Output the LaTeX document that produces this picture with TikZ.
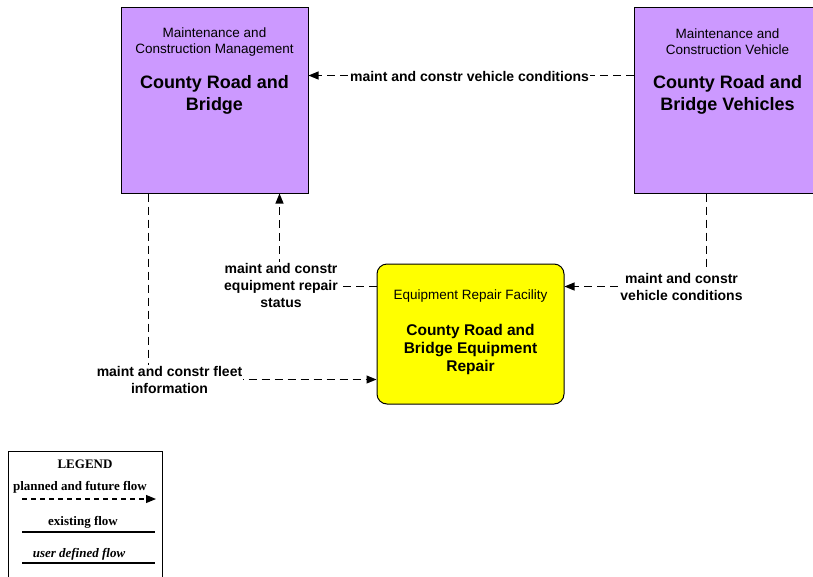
\documentclass[tikz,border=0pt]{standalone}
\usepackage{fontspec}
\setmainfont{Liberation Sans}
\newfontfamily\legendfont{Liberation Serif}
\usetikzlibrary{arrows.meta,calc}
\definecolor{boxpurple}{RGB}{204,153,255}
\definecolor{boxyellow}{RGB}{255,255,0}
\tikzset{
  x=1pt,y=-1pt,
  purplebox/.style={draw=black,line width=1pt,fill=boxpurple,rectangle,inner sep=0pt},
  yellowbox/.style={draw=black,line width=1pt,fill=boxyellow,rectangle,rounded corners=10pt,inner sep=0pt},
  subtxt/.style={align=center,inner sep=0pt,font=\fontsize{13.5}{16}\selectfont},
  titletxt/.style={align=center,inner sep=0pt,font=\bfseries\fontsize{18}{22}\selectfont},
  ytitletxt/.style={align=center,inner sep=0pt,font=\bfseries\fontsize{15.5}{18}\selectfont},
  flow/.style={draw=black,line width=1.1pt,dash pattern=on 8pt off 5pt,-{Triangle[length=10pt,width=8pt]}},
  flowlbl/.style={align=center,fill=white,inner sep=1pt,font=\bfseries\fontsize{14}{17}\selectfont},
  legtxt/.style={inner sep=0pt,font=\legendfont\bfseries\fontsize{13}{14}\selectfont},
  legline/.style={draw=black,line width=1.1pt}
}
\begin{document}
\begin{tikzpicture}
\useasboundingbox (0,0) rectangle (813,576);
% boxes
\node[purplebox,minimum width=187pt,minimum height=186pt] (crb) at (214.5,100) {};
\node[purplebox,minimum width=187pt,minimum height=186pt] (crbv) at (727.5,100) {};
\node[yellowbox,minimum width=187pt,minimum height=140pt] (yr) at (470.5,334) {};
% box texts
\node[subtxt] (crbsub) at (214.5,42) {Maintenance and\\Construction Management};
\node[titletxt] (crbtitle) at (214.5,95) {County Road and\\Bridge};
\node[subtxt] (crbvsub) at (727.5,42) {Maintenance and\\Construction Vehicle};
\node[titletxt] (crbvtitle) at (727.5,95) {County Road and\\Bridge Vehicles};
\node[subtxt] (yrsub) at (470.5,296) {Equipment Repair Facility};
\node[ytitletxt] (yrtitle) at (470.5,349) {County Road and\\Bridge Equipment\\Repair};
% connectors
\draw[flow] ($(crbv.north west)+(0,69)$) -- ($(crb.north east)+(0,69)$);
\node[flowlbl] (l1) at (469.5,76) {maint and constr vehicle conditions};
\draw[flow] ($(yr.north west)+(0,23)$) -| ($(crb.south west)+(159,0)$);
\node[flowlbl] (l2) at (281,285) {maint and constr\\equipment repair\\status};
\draw[flow] ($(crb.south west)+(28,0)$) |- ($(yr.north west)+(0,116)$);
\node[flowlbl] (l3) at (169.5,379.5) {maint and constr fleet\\information};
\draw[flow] ($(crbv.south west)+(73,0)$) |- ($(yr.north east)+(0,23)$);
\node[flowlbl] (l4) at (681.5,286.5) {maint and constr\\vehicle conditions};
% legend
\node[draw=black,line width=1pt,rectangle,minimum width=154pt,minimum height=130pt,inner sep=0pt] (leg) at (85,516) {};
\node[legtxt] (legt) at (85,464) {LEGEND};
\node[legtxt] (leg1) at (80,487) {planned and future flow};
\coordinate (a1) at (22,499);
\coordinate (a2) at (156,499);
\draw[line width=1.1pt,dash pattern=on 5pt off 4pt,-{Triangle[length=10pt,width=8pt]}] (a1) -- (a2);
\node[legtxt] (leg2) at (83,522) {existing flow};
\coordinate (b1) at (22,532);
\coordinate (b2) at (155,532);
\draw[legline] (b1) -- (b2);
\node[legtxt,font=\legendfont\bfseries\itshape\fontsize{13}{14}\selectfont] (leg3) at (79,554) {user defined flow};
\coordinate (c1) at (22,563);
\coordinate (c2) at (155,563);
\draw[legline] (c1) -- (c2);
\end{tikzpicture}
\end{document}
